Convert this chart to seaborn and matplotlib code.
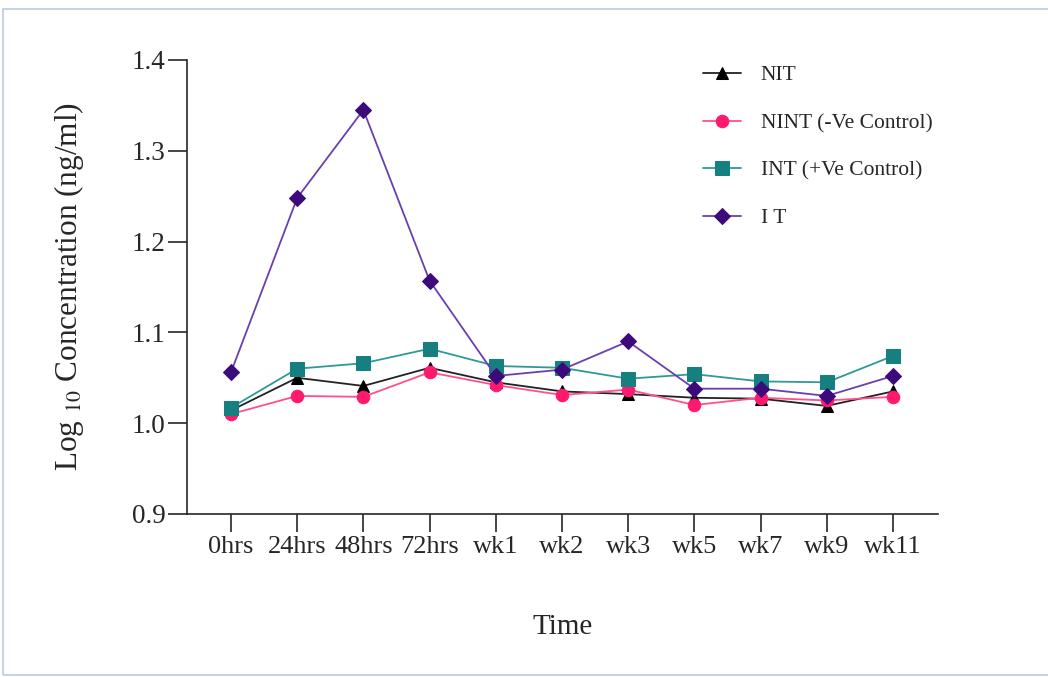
import matplotlib
matplotlib.use('Agg')
import matplotlib.pyplot as plt
import pandas as pd
import seaborn as sns
from matplotlib.patches import Rectangle

sns.set_style('ticks')
plt.rcParams['font.family'] = ['Liberation Serif', 'DejaVu Serif']
plt.rcParams['mathtext.fontset'] = 'stix'

times = ['0hrs', '24hrs', '48hrs', '72hrs', 'wk1', 'wk2', 'wk3', 'wk5', 'wk7', 'wk9', 'wk11']
nit = [1.014, 1.050, 1.041, 1.061, 1.045, 1.035, 1.032, 1.028, 1.027, 1.019, 1.035]
nint = [1.010, 1.030, 1.029, 1.056, 1.042, 1.031, 1.037, 1.020, 1.028, 1.025, 1.029]
int_pos = [1.017, 1.060, 1.066, 1.082, 1.063, 1.061, 1.049, 1.054, 1.046, 1.045, 1.074]
it = [1.056, 1.248, 1.345, 1.157, 1.052, 1.059, 1.090, 1.038, 1.038, 1.030, 1.052]

series = [
    ('NIT', nit, '^', '#222222', '#000000', 9),
    ('NINT (-Ve Control)', nint, 'o', '#ff4f8f', '#ff1a70', 9),
    ('INT (+Ve Control)', int_pos, 's', '#2e9a96', '#168080', 10),
    ('I T', it, 'D', '#6a3fb0', '#3d0a7a', 8),
]

fig = plt.figure(figsize=(10.48, 6.77), dpi=100)
ax = fig.add_axes([0.1784, 0.2408, 0.7166, 0.6706])

for name, vals, mk, lc, mc, ms in series:
    sns.lineplot(x=times, y=vals, ax=ax, color=lc, marker=mk, markersize=ms,
                 markerfacecolor=mc, markeredgecolor=mc, linewidth=1.3,
                 label=name, sort=False)

ax.set_ylim(0.9, 1.4)
ax.set_xlim(-0.665, 10.68)
ax.set_yticks([0.9, 1.0, 1.1, 1.2, 1.3, 1.4])
ax.set_yticklabels(['0.9', '1.0', '1.1', '1.2', '1.3', '1.4'], fontsize=19.5)
ax.tick_params(axis='x', labelsize=19, length=13, width=1.2, pad=3)
ax.tick_params(axis='y', length=14, width=1.2, pad=1.5)
for s in ['left', 'bottom']:
    ax.spines[s].set_linewidth(1.2)
sns.despine(ax=ax)

ax.set_xlabel('Time', fontsize=21, labelpad=40)
ax.set_ylabel(r'Log $_{10}$ Concentration (ng/ml)', fontsize=22.5)
ax.yaxis.set_label_coords(-0.134, 0.5)

ax.legend(loc='upper left', bbox_to_anchor=(0.652, 0.932), bbox_transform=fig.transFigure,
          frameon=False, fontsize=15.5, handlelength=1.77, handletextpad=0.93,
          labelspacing=1.28)

fig.patches.append(Rectangle((3 / 1048, 2 / 677), 1.2, 1 - 11 / 677,
                             transform=fig.transFigure, fill=False,
                             edgecolor='#b8cce4', linewidth=1.2))

fig.savefig('out.png', dpi=100)
